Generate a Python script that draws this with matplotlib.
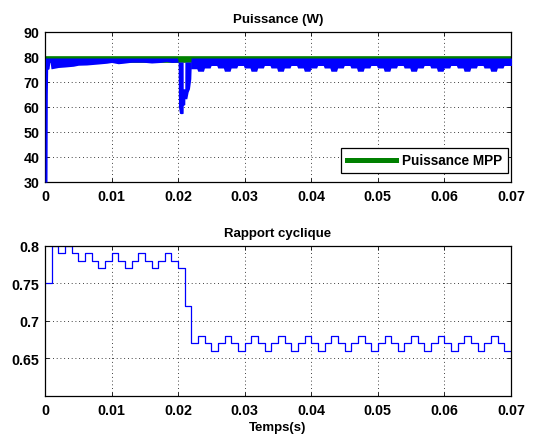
import numpy as np
import matplotlib
matplotlib.use("Agg")
import matplotlib.pyplot as plt
from matplotlib.lines import Line2D

# ---------------- data ----------------
# Duty cycle (steps of 1 ms, 0 .. 0.07 s)
DUTY_T = [i * 0.001 for i in range(71)]
DUTY = [0.75, 0.80, 0.79, 0.80, 0.79, 0.78, 0.79, 0.78, 0.77, 0.78,
        0.79, 0.78, 0.77, 0.78, 0.79, 0.78, 0.77, 0.78, 0.79, 0.78,
        0.77, 0.72, 0.67, 0.68, 0.67, 0.66, 0.67, 0.68, 0.67, 0.66,
        0.67, 0.68, 0.67, 0.66, 0.67, 0.68, 0.67, 0.66, 0.67, 0.68,
        0.67, 0.66, 0.67, 0.68, 0.67, 0.66, 0.67, 0.68, 0.67, 0.66,
        0.67, 0.68, 0.67, 0.66, 0.67, 0.68, 0.67, 0.66, 0.67, 0.68,
        0.67, 0.66, 0.67, 0.68, 0.67, 0.66, 0.67, 0.68, 0.67, 0.66]

# Power envelope (fast ripple drawn as a band) : start-up and before the step
P1_T = [0, 0.00005, 0.0003, 0.00035, 0.0004, 0.0006, 0.00075, 0.0009, 0.001,
        0.002, 0.003, 0.00425, 0.005, 0.00625, 0.008, 0.00925, 0.01, 0.011,
        0.01175, 0.013, 0.01475, 0.016, 0.01725, 0.01825, 0.019, 0.0199]
P1_UP = [30, 79.6, 79.6, 79.6, 79.6, 79.6, 79.6, 79.6, 79.6,
         79.6, 79.6, 79.6, 79.6, 79.6, 79.6, 79.6, 79.6, 79.6,
         79.6, 79.6, 79.6, 79.6, 79.6, 79.6, 79.6, 79.6]
P1_LOW = [30, 30, 30, 65, 75, 75.3, 78.3, 75.3, 75.3,
          75.8, 76.0, 76.3, 76.7, 76.8, 77.2, 77.5, 77.8, 77.3,
          77.5, 77.9, 77.9, 77.6, 77.8, 78.2, 77.8, 77.9]

# Power envelope during the irradiance step (~0.02 s)
P2_T = [0.0199, 0.0200, 0.02005, 0.0202, 0.0205, 0.02075, 0.02076, 0.021,
        0.02101, 0.0213, 0.0215, 0.0217, 0.0219, 0.02195, 0.0220]
P2_UP = [79.6, 78, 78, 78, 78, 78, 67.3, 67.3, 78, 78, 78, 78, 78, 79.6, 79.6]
P2_LOW = [77.9, 77.9, 60, 57.5, 57.3, 57.5, 60.6, 61, 63.3, 63.3, 66, 67.3,
          71.3, 75.3, 75.3]

# Power lower envelope per 1 ms interval after the step (0.022 .. 0.07 s)
P3_LOW = [75.3, 74.3, 75.6, 76.6, 75.6, 74.3, 75.6, 76.6, 75.6, 74.3,
          75.6, 76.6, 75.6, 74.3, 75.6, 76.6, 75.6, 74.3, 75.6, 76.6,
          75.6, 74.3, 75.6, 76.6, 75.6, 74.3, 75.6, 76.6, 75.6, 74.3,
          75.6, 76.6, 75.6, 74.3, 75.6, 76.6, 75.6, 74.3, 75.6, 76.6,
          75.6, 74.3, 75.6, 76.6, 75.6, 74.3, 75.6, 76.6]
P3_UP = 79.6
P_MPP = 79.35

XTICKS = [0, 0.01, 0.02, 0.03, 0.04, 0.05, 0.06, 0.07]
XTICKLABELS = ['0', '0.01', '0.02', '0.03', '0.04', '0.05', '0.06', '0.07']
YTICKS1 = [30, 40, 50, 60, 70, 80, 90]
YTICKS2 = [0.65, 0.7, 0.75, 0.8]
YTICKLABELS2 = ['0.65', '0.7', '0.75', '0.8']

# ---------------- style ----------------
plt.rcParams['font.family'] = ['Liberation Sans', 'DejaVu Sans']
plt.rcParams['font.weight'] = 'bold'
plt.rcParams['font.size'] = 9.5
FS = 9.5
TFS = 10.3
BLUE = '#0000ff'
GREEN = '#008000'

fig = plt.figure(figsize=(5.33, 4.35), dpi=100)
ax1 = fig.add_axes([45 / 533, 1 - 183 / 435, 466 / 533, 150 / 435])
ax2 = fig.add_axes([45 / 533, 1 - 396.7 / 435, 466 / 533, 150 / 435])


def style(ax):
    ax.set_xlim(0, 0.07)
    ax.set_xticks(XTICKS)
    ax.set_xticklabels(XTICKLABELS)
    ax.tick_params(direction='in', length=3, width=0.6, top=True, right=True,
                   labelsize=TFS, pad=4)
    ax.tick_params(axis='x', pad=5)
    for lab in ax.get_xticklabels() + ax.get_yticklabels():
        lab.set_fontweight('bold')
    ax.grid(True, color='k', linestyle=(0, (1, 3.5)), linewidth=0.6)
    for s in ax.spines.values():
        s.set_linewidth(0.9)
        s.set_color('k')
    ax.set_axisbelow(True)


# ---- top: power ----
ax1.plot([0, 0.07], [P_MPP, P_MPP], color=GREEN, lw=4.8,
         solid_capstyle='butt', zorder=2)
ax1.fill_between(P1_T, P1_LOW, P1_UP, color=BLUE, lw=0, zorder=3)
ax1.plot([0.0002, 0.0002], [30, 62], color=BLUE, lw=0.6, zorder=3)
ax1.fill_between(P2_T, P2_LOW, P2_UP, color=BLUE, lw=0, zorder=3)

# trapezoid envelope after the step, built from per-interval lower values
t3, lo3 = [], []
for k, v in enumerate(P3_LOW):
    a = DUTY_T[22 + k]
    t3 += [a - 0.00005, a + 0.0008]
    lo3 += [v, v]
t3[0] = 0.0220
t3.append(0.0701)
lo3.append(P3_LOW[-1])
ax1.fill_between(t3, lo3, [P3_UP] * len(t3), color=BLUE, lw=0, zorder=3)

ax1.set_ylim(30, 90)
ax1.set_yticks(YTICKS1)
style(ax1)
ax1.set_title('Puissance (W)', fontsize=FS, fontweight='bold', pad=7)
leg = ax1.legend([Line2D([0], [0], color=GREEN, lw=3.6)], ['Puissance MPP'],
                 loc='lower right', bbox_to_anchor=(0.9936, 0.06),
                 borderaxespad=0, fancybox=False, edgecolor='k',
                 fontsize=FS + 0.3, handlelength=3.6, handletextpad=0.45,
                 borderpad=0.42, framealpha=1)
leg.get_frame().set_linewidth(0.9)
for txt in leg.get_texts():
    txt.set_fontweight('bold')

# ---- bottom: duty cycle ----
ax2.plot(DUTY_T, DUTY + [DUTY[-1]], drawstyle='steps-post', color=BLUE, lw=0.9)
ax2.set_ylim(0.6, 0.8)
ax2.set_yticks(YTICKS2)
ax2.set_yticklabels(YTICKLABELS2)
style(ax2)
ax2.set_title('Rapport cyclique', fontsize=FS, fontweight='bold', pad=7)
ax2.set_xlabel('Temps(s)', fontsize=FS, fontweight='bold', labelpad=3)

fig.savefig('out.png', dpi=100)
